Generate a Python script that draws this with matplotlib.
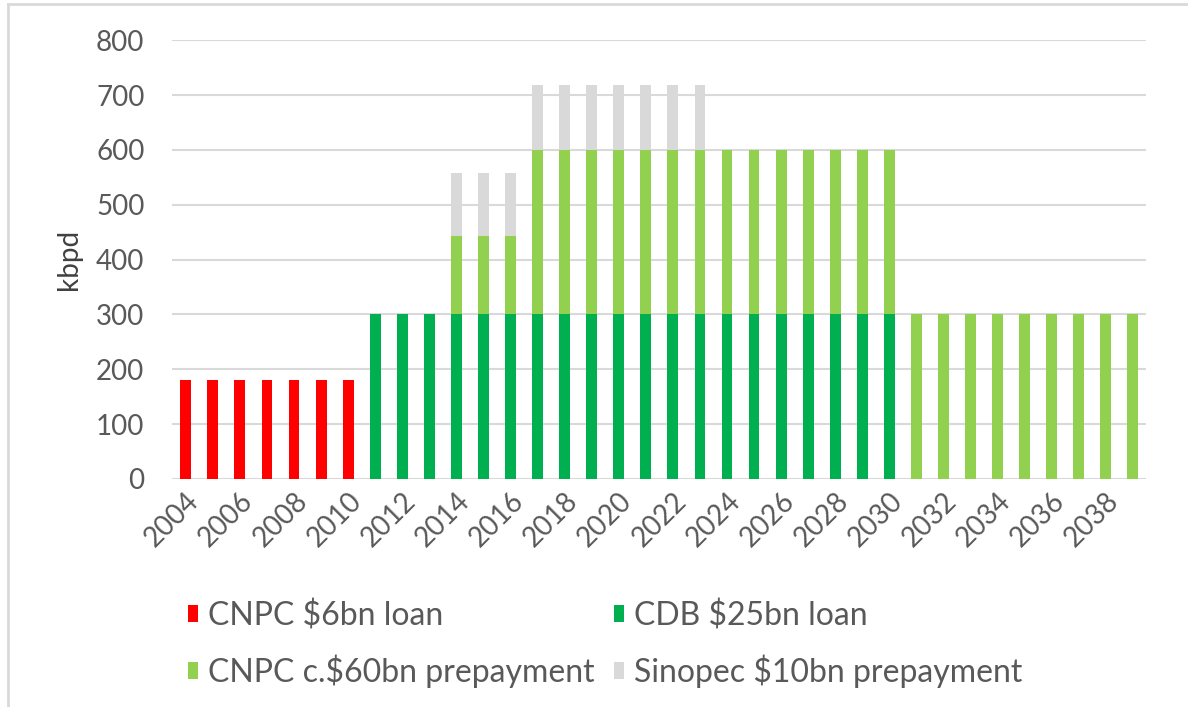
import numpy as np
import matplotlib.pyplot as plt
from matplotlib.lines import Line2D

plt.rcParams['font.family'] = ['Lato', 'DejaVu Sans']

years = np.arange(2004, 2040)
cnpc_loan = [180] * 7 + [0] * 29
cdb_loan = [0] * 7 + [300] * 20 + [0] * 9
cnpc_prepay = [0] * 10 + [143] * 3 + [300] * 14 + [300] * 9
sinopec_prepay = [0] * 10 + [115] * 3 + [118] * 7 + [0] * 16

series = [
    ("CNPC $6bn loan", cnpc_loan, "#ff0000"),
    ("CDB $25bn loan", cdb_loan, "#00b050"),
    ("CNPC c.$60bn prepayment", cnpc_prepay, "#92d050"),
    ("Sinopec $10bn prepayment", sinopec_prepay, "#d9d9d9"),
]

fig = plt.figure(figsize=(11.88, 7.07), dpi=100)
ax = fig.add_axes([0.145, 0.3225, 0.82, 0.6205])

x = np.arange(len(years))
bottom = np.zeros(len(years))
for name, vals, col in series:
    vals = np.array(vals, dtype=float)
    ax.bar(x, vals, 0.4, bottom=bottom, color=col, label=name, zorder=3)
    bottom += vals

ax.set_xlim(-0.5, len(years) - 0.5)
ax.set_ylim(0, 800)
ax.set_yticks(range(0, 801, 100))
ax.grid(axis='y', color='#d9d9d9', linewidth=1.5, zorder=0)
for s in ax.spines.values():
    s.set_visible(False)
ax.tick_params(axis='y', length=0, labelsize=20, colors='#595959', pad=20)
ax.tick_params(axis='x', length=0, labelsize=20, colors='#595959', pad=6)
ax.set_xticks(x[::2])
ax.set_xticklabels([str(y) for y in years[::2]], rotation=45, ha='right',
                   va='top', rotation_mode='anchor')
ax.set_ylabel('kbpd', fontsize=20, color='#404040', labelpad=10)

h, l = ax.get_legend_handles_labels()
order = [0, 2, 1, 3]
ax.legend([h[i] for i in order], [l[i] for i in order],
          loc='upper left', bbox_to_anchor=(0.0, -0.24), ncol=2,
          frameon=False, fontsize=23, labelcolor='#595959',
          handlelength=0.32, handleheight=0.45, handletextpad=0.3,
          columnspacing=0.6, labelspacing=0.72, borderpad=0)

# outer frame
fig.add_artist(Line2D([0.0065, 0.0065], [0, 0.995], color='#d9d9d9', lw=2))
fig.add_artist(Line2D([0.0065, 1.0], [0.995, 0.995], color='#d9d9d9', lw=2))

fig.savefig('out.png', dpi=100)
